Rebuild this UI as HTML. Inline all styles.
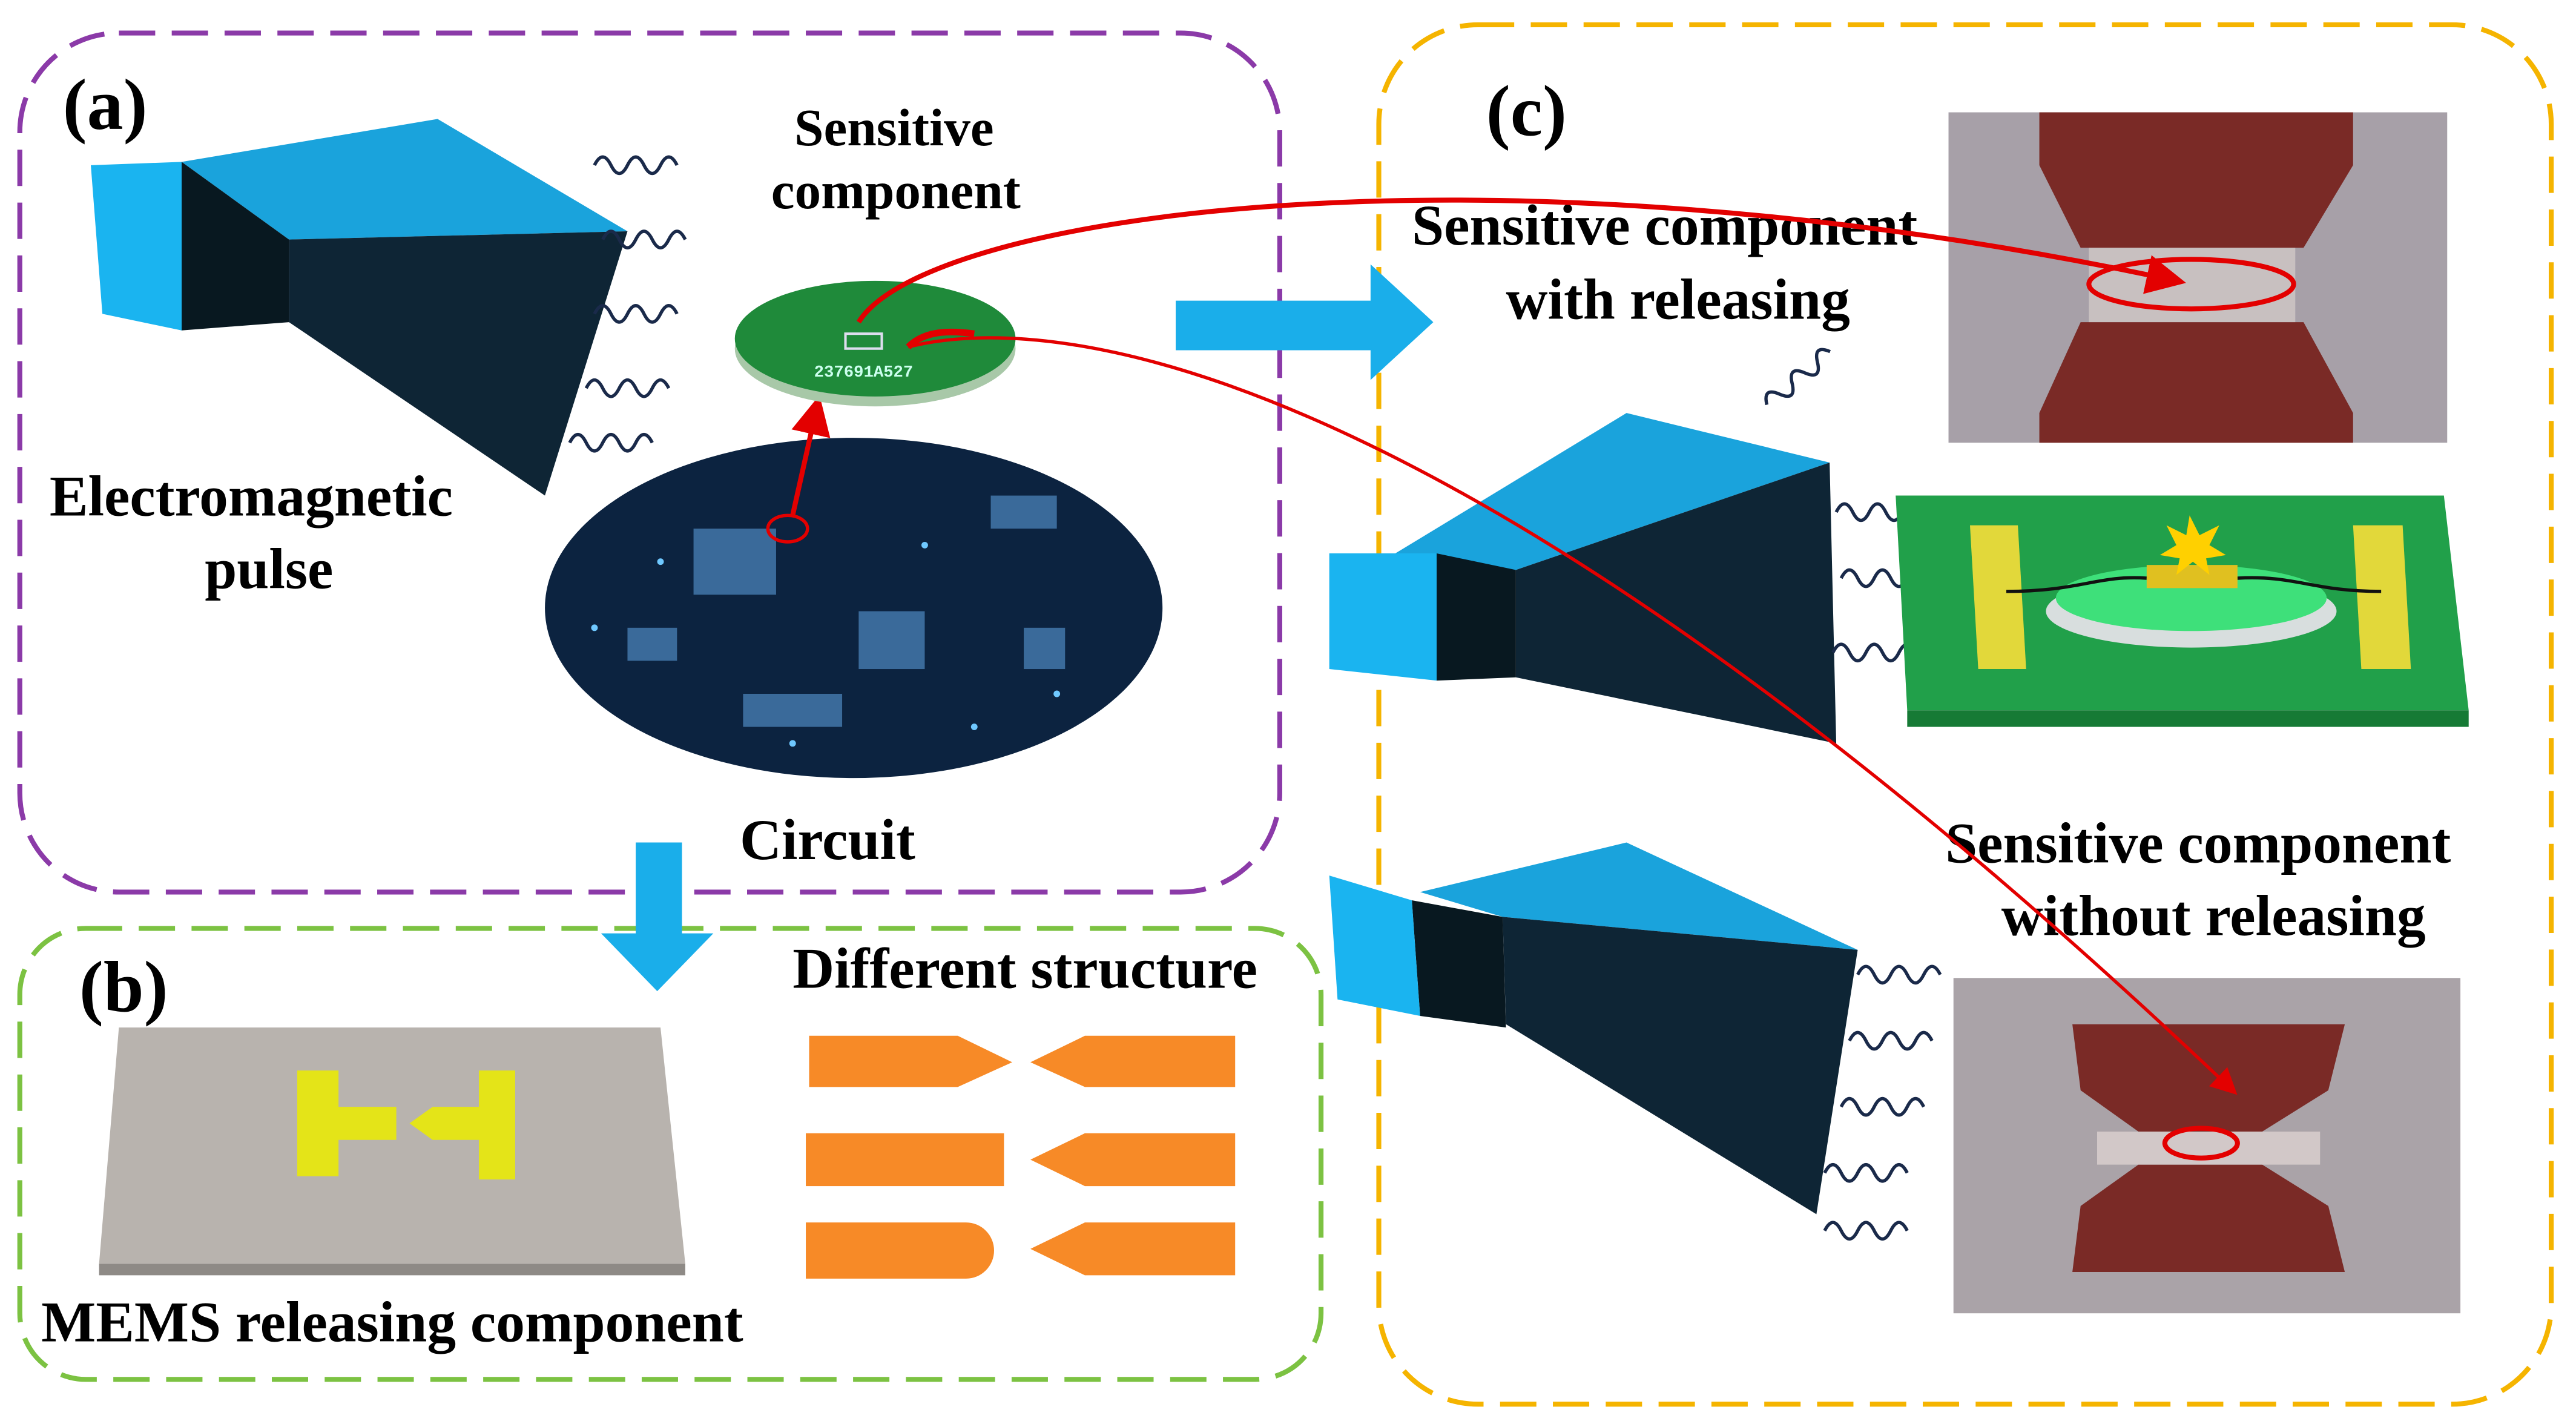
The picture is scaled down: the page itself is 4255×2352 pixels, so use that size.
<!DOCTYPE html>
<html><head><meta charset="utf-8"><style>
html,body{margin:0;padding:0;background:#fff;}
svg{display:block;}
text{font-family:"Liberation Serif",serif;font-weight:bold;fill:#000;}
</style></head><body>
<svg width="4255" height="2352" viewBox="0 0 1560 862" preserveAspectRatio="none" xmlns="http://www.w3.org/2000/svg">
<defs>
<g id="wave"><path d="M0 0 q5 -10 10 0 t10 0 t10 0 t10 0 t10 0" fill="none" stroke="#1a2a4a" stroke-width="2"/></g>
<marker id="ah" markerWidth="8" markerHeight="8" refX="6" refY="4" orient="auto"><path d="M0 0 L8 4 L0 8z" fill="#e30000"/></marker>
</defs>
<rect width="1560" height="862" fill="#fff"/>
<rect x="12" y="20" width="763" height="520" rx="60" fill="none" stroke="#8b3aa8" stroke-width="3" stroke-dasharray="22 10"/>
<rect x="12" y="562" width="788" height="273" rx="40" fill="none" stroke="#7cc242" stroke-width="3" stroke-dasharray="22 10"/>
<rect x="835" y="15" width="710" height="835" rx="60" fill="none" stroke="#f5b400" stroke-width="3" stroke-dasharray="22 10"/>
<text x="38" y="78" font-size="44">(a)</text>
<text x="48" y="612" font-size="44">(b)</text>
<text x="900" y="82" font-size="44">(c)</text>

<!-- horn a -->
<polygon points="110,98 265,72 380,140 175,145" fill="#1aa3dc"/>
<polygon points="175,145 380,140 330,300 175,195" fill="#0e2535"/>
<polygon points="110,98 175,145 175,195 110,200" fill="#081820"/>
<polygon points="55,100 110,98 110,200 62,190" fill="#1ab4f0"/>
<g transform="translate(360,100)"><use href="#wave"/></g>
<g transform="translate(365,145)"><use href="#wave"/></g>
<g transform="translate(360,190)"><use href="#wave"/></g>
<g transform="translate(355,235)"><use href="#wave"/></g>
<g transform="translate(345,268)"><use href="#wave"/></g>
<text x="481" y="88" font-size="32">Sensitive</text>
<text x="467" y="126" font-size="32">component</text>
<text x="30" y="312" font-size="35">Electromagnetic</text>
<text x="124" y="356" font-size="35">pulse</text>
<!-- circuit -->
<ellipse cx="517" cy="368" rx="187" ry="103" fill="#0c2340"/>
<g fill="#3a6a9a">
<rect x="420" y="320" width="50" height="40"/><rect x="520" y="370" width="40" height="35"/><rect x="380" y="380" width="30" height="20"/><rect x="600" y="300" width="40" height="20"/><rect x="450" y="420" width="60" height="20"/><rect x="620" y="380" width="25" height="25"/>
</g>
<g fill="#6fc8ff"><circle cx="400" cy="340" r="2"/><circle cx="560" cy="330" r="2"/><circle cx="640" cy="420" r="2"/><circle cx="480" cy="450" r="2"/><circle cx="590" cy="440" r="2"/><circle cx="360" cy="380" r="2"/></g>
<ellipse cx="477" cy="320" rx="12" ry="8" fill="none" stroke="#e30000" stroke-width="2"/>
<line x1="480" y1="312" x2="495" y2="245" stroke="#e30000" stroke-width="3" marker-end="url(#ah)"/>
<text x="448" y="520" font-size="35">Circuit</text>
<!-- pcb -->
<ellipse cx="530" cy="211" rx="85" ry="35" fill="#a8c8a8"/>
<ellipse cx="530" cy="205" rx="85" ry="35" fill="#1f8a3a"/>
<text x="493" y="228" font-size="10" style="font-family:'Liberation Mono',monospace;fill:#cfe" font-weight="normal">237691A527</text>
<rect x="512" y="202" width="22" height="9" fill="none" stroke="#dde" stroke-width="1.5"/>
<!-- blue arrows -->
<polygon points="712,182 830,182 830,160 868,195 830,230 830,212 712,212" fill="#1aaeea"/>
<polygon points="385,510 413,510 413,565 432,565 398,600 364,565 385,565" fill="#1aaeea"/>
<!-- MEMS -->
<polygon points="72,622 400,622 415,765 60,765" fill="#b8b3ae"/>
<polygon points="60,765 415,765 415,772 60,772" fill="#8e8a86"/>
<polygon points="180,648 205,648 205,670 240,670 240,690 205,690 205,712 180,712" fill="#e4e418"/>
<polygon points="290,648 312,648 312,714 290,714 290,690 262,690 248,680 262,670 290,670" fill="#e4e418"/>
<text x="25" y="812" font-size="35">MEMS releasing component</text>
<text x="480" y="598" font-size="35">Different structure</text>
<g fill="#f78a27">
<polygon points="490,627 580,627 613,643 580,658 490,658"/>
<polygon points="748,627 657,627 624,643 657,658 748,658"/>
<rect x="488" y="686" width="120" height="32"/>
<polygon points="748,686 657,686 624,702 657,718 748,718"/>
<path d="M488 740 L585 740 A17 17 0 0 1 585 774 L488 774 Z"/>
<polygon points="748,740 657,740 624,756 657,772 748,772"/>
</g>
<!-- photo 1 -->
<rect x="1180" y="68" width="302" height="200" fill="#a7a0a8"/>
<polygon points="1235,68 1425,68 1425,100 1395,150 1260,150 1235,100" fill="#7a2a26"/>
<polygon points="1260,195 1395,195 1425,250 1425,268 1235,268 1235,250" fill="#7a2a26"/>
<rect x="1265" y="150" width="125" height="45" fill="#c8c0c0"/>
<ellipse cx="1327" cy="172" rx="62" ry="15" fill="none" stroke="#e30000" stroke-width="3"/>
<text x="855" y="148" font-size="35">Sensitive component</text>
<text x="912" y="193" font-size="35">with releasing</text>
<!-- horn c1 -->
<polygon points="845,335 985,250 1108,280 918,345" fill="#1aa3dc"/>
<polygon points="918,345 1108,280 1112,450 918,410" fill="#0e2535"/>
<polygon points="870,335 918,345 918,410 870,412" fill="#081820"/>
<polygon points="805,335 870,335 870,412 805,405" fill="#1ab4f0"/>
<g transform="translate(1070,245) rotate(-40)"><use href="#wave"/></g>
<g transform="translate(1112,310)"><use href="#wave"/></g>
<g transform="translate(1115,350)"><use href="#wave"/></g>
<g transform="translate(1110,395)"><use href="#wave"/></g>
<!-- green board -->
<polygon points="1148,300 1480,300 1495,430 1155,430" fill="#21a04a"/>
<rect x="1155" y="430" width="340" height="10" fill="#167a35"/>
<polygon points="1193,318 1222,318 1227,405 1198,405" fill="#e2d83a"/>
<polygon points="1425,318 1455,318 1460,405 1430,405" fill="#e2d83a"/>
<ellipse cx="1327" cy="370" rx="88" ry="22" fill="#d8dede"/>
<ellipse cx="1327" cy="362" rx="82" ry="20" fill="#3ee07a"/>
<path d="M1215 358 C1260 358 1270 348 1300 350 M1355 350 C1390 348 1400 358 1442 358" stroke="#111" stroke-width="2" fill="none"/>
<rect x="1300" y="342" width="55" height="14" fill="#e0c020"/>
<polygon points="1326,312 1332,324 1344,318 1338,330 1348,336 1336,338 1338,348 1328,340 1318,348 1320,338 1308,336 1318,330 1312,318 1324,324" fill="#ffd000"/>
<!-- horn c2 -->
<polygon points="860,540 985,510 1125,575 910,555" fill="#1aa3dc"/>
<polygon points="910,555 1125,575 1100,735 912,620" fill="#0e2535"/>
<polygon points="855,545 910,555 912,622 860,615" fill="#081820"/>
<polygon points="805,530 855,545 860,615 810,605" fill="#1ab4f0"/>
<g transform="translate(1125,590)"><use href="#wave"/></g>
<g transform="translate(1120,630)"><use href="#wave"/></g>
<g transform="translate(1115,670)"><use href="#wave"/></g>
<g transform="translate(1105,710)"><use href="#wave"/></g>
<g transform="translate(1105,745)"><use href="#wave"/></g>
<text x="1178" y="522" font-size="35">Sensitive component</text>
<text x="1212" y="566" font-size="35">without releasing</text>
<!-- photo 2 -->
<rect x="1183" y="592" width="307" height="203" fill="#aaa3a8"/>
<polygon points="1255,620 1420,620 1410,660 1370,685 1295,685 1260,660" fill="#7a2a26"/>
<polygon points="1295,705 1370,705 1410,730 1420,770 1255,770 1260,730" fill="#7a2a26"/>
<rect x="1270" y="685" width="135" height="20" fill="#d2c8c8"/>
<ellipse cx="1333" cy="692" rx="22" ry="9" fill="none" stroke="#e30000" stroke-width="3"/>
<!-- red curves on top -->
<path d="M520 195 C560 130 900 80 1318 170" fill="none" stroke="#e30000" stroke-width="3" marker-end="url(#ah)"/>
<path d="M550 210 C650 185 900 230 1352 660" fill="none" stroke="#e30000" stroke-width="2" marker-end="url(#ah)"/>
<path d="M550 210 C560 200 575 200 590 202" fill="none" stroke="#e30000" stroke-width="4"/>
</svg>
</body></html>
